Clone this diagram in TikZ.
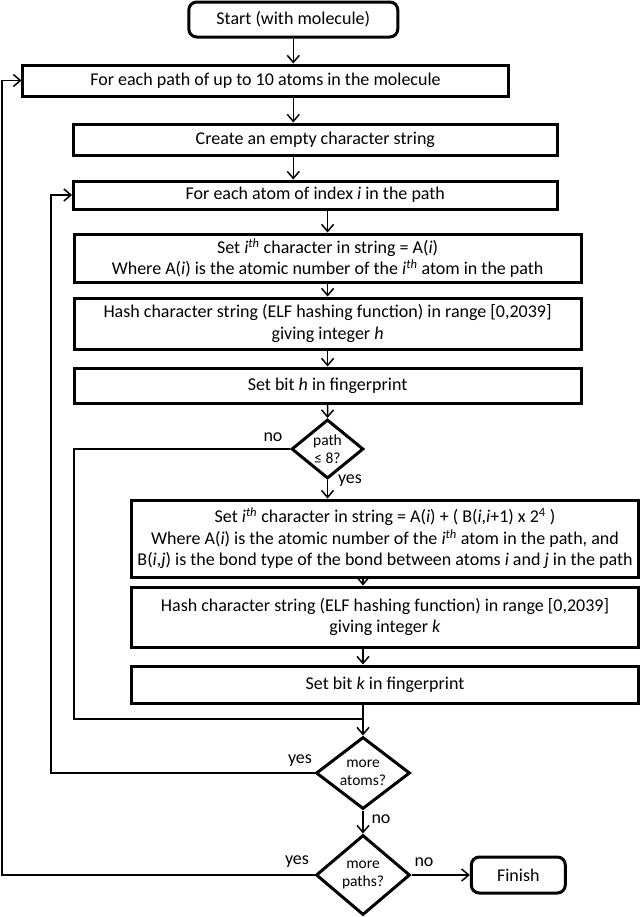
\documentclass[tikz,border=0pt]{standalone}
\usepackage{fontspec}
\setmainfont{Carlito}
\usetikzlibrary{shapes.geometric,arrows.meta}
\newcommand{\ithsup}{\textit{i}\textsuperscript{\textit{th}}}

\begin{document}
\begin{tikzpicture}[x=1bp,y=-1bp,>={Straight Barb[length=7bp,width=12bp]},line join=miter,
  flow/.style={->,line width=1.5bp},
  link/.style={line width=1.5bp},
  box/.style={draw,line width=3bp,inner sep=0pt,align=center,font=\fontsize{18bp}{21.5bp}\selectfont},
  term/.style={box,rounded corners=8bp},
  decision/.style={draw,diamond,line width=3bp,inner sep=-1bp,align=center,font=\fontsize{15.5bp}{18bp}\selectfont},
  lbl/.style={inner sep=0pt,font=\fontsize{18bp}{21.5bp}\selectfont}]
\useasboundingbox (0,0) rectangle (640,917);
  % Node: start
  \node[term,minimum width=209bp,minimum height=35bp] (start) at (293.3,19.5) {Start (with molecule)};
  % Node: path
  \node[box,minimum width=485bp,minimum height=31bp] (path) at (265.5,80.5) {For each path of up to 10 atoms in the molecule};
  % Node: create
  \node[box,minimum width=483.5bp,minimum height=31bp] (create) at (315.3,139.5) {Create an empty character string};
  % Node: atom
  \node[box,minimum width=483.5bp,minimum height=28bp] (atom) at (315.3,195) {For each atom of index \textit{i} in the path};
  % Node: setA
  \node[box,minimum width=507bp,minimum height=48bp] (setA) at (327.6,258) {Set \ithsup{} character in string = A(\textit{i})\\Where A(\textit{i}) is the atomic number of the \ithsup{} atom in the path};
  % Node: hashh
  \node[box,minimum width=507bp,minimum height=51bp] (hashh) at (327.6,323.5) {Hash character string (ELF hashing function) in range [0,2039]\\giving integer \textit{h}};
  % Node: bith
  \node[box,minimum width=507bp,minimum height=35bp] (bith) at (327.6,385.5) {Set bit \textit{h} in fingerprint};
  % Node: dpath
  \node[decision,minimum width=72bp,minimum height=59bp] (dpath) at (327.5,449) {path\\≤ 8?};
  % Node: setB
  \node[box,minimum width=506bp,minimum height=77bp] (setB) at (385,538.5) {Set \ithsup{} character in string = A(\textit{i}) + ( B(\textit{i},\textit{i}+1) x 2\textsuperscript{4} )\\Where A(\textit{i}) is the atomic number of the \ithsup{} atom in the path, and\\B(\textit{i},\textit{j}) is the bond type of the bond between atoms \textit{i} and \textit{j} in the path};
  % Node: hashk
  \node[box,minimum width=506bp,minimum height=60bp] (hashk) at (385,617) {Hash character string (ELF hashing function) in range [0,2039]\\giving integer \textit{k}};
  % Node: bitk
  \node[box,minimum width=506bp,minimum height=37bp] (bitk) at (385,684.5) {Set bit \textit{k} in fingerprint};
  % Node: datoms
  \node[decision,minimum width=94bp,minimum height=72bp] (datoms) at (363,773) {more\\atoms?};
  % Node: dpaths
  \node[decision,minimum width=94bp,minimum height=80bp] (dpaths) at (363,875) {more\\paths?};
  % Node: finish
  \node[term,minimum width=94bp,minimum height=36bp] (finish) at (518.3,875) {Finish};
  % loop turning points
  \coordinate (pathloop) at (2,0);
  \coordinate (atomloop) at (51,0);
  \coordinate (skip) at (74,719);
  % Edge: start -> path
  \draw[flow] (start.south) -- (start.south |- path.north);
  % Edge: path -> create
  \draw[flow] (start.south |- path.south) -- (start.south |- create.north);
  % Edge: create -> atom
  \draw[flow] (start.south |- create.south) -- (start.south |- atom.north);
  % Edge: atom -> setA
  \draw[flow] (setA.north |- atom.south) -- (setA.north);
  % Edge: setA -> hashh
  \draw[flow] (setA.south) -- (hashh.north);
  % Edge: hashh -> bith
  \draw[flow] (hashh.south) -- (bith.north);
  % Edge: bith -> dpath
  \draw[flow] (bith.south) -- (dpath.north);
  % Edge: dpath -> setB (yes)
  \draw[flow] (dpath.south) -- (dpath.south |- setB.north);
  \node[lbl] (yes1) at (350,481) {yes};
  % Edge: setB -> hashk
  \draw[flow] (datoms |- setB.south) -- (datoms |- hashk.north);
  % Edge: hashk -> bitk
  \draw[flow] (datoms |- hashk.south) -- (datoms |- bitk.north);
  % Edge: bitk -> datoms
  \draw[flow] (datoms |- bitk.south) -- (datoms.north);
  % Edge: dpath -> datoms (no)
  \draw[link] (dpath.west) -| (skip) -- (skip -| datoms);
  \node[lbl] (no1) at (273,437) {no};
  % Edge: datoms -> atom (yes)
  \draw[flow] (datoms.west) -| (atomloop |- atom.west) -- (atom.west);
  \node[lbl] (yes2) at (300,761) {yes};
  % Edge: datoms -> dpaths (no)
  \draw[flow] (datoms.south) -- (dpaths.north);
  \node[lbl] (no2) at (381,819) {no};
  % Edge: dpaths -> path (yes)
  \draw[flow] (dpaths.west) -| (pathloop |- path.west) -- (path.west);
  \node[lbl] (yes3) at (297,862) {yes};
  % Edge: dpaths -> finish (no)
  \draw[flow] (dpaths.east) -- (finish.west);
  \node[lbl] (no3) at (424,862) {no};
\end{tikzpicture}
\end{document}
